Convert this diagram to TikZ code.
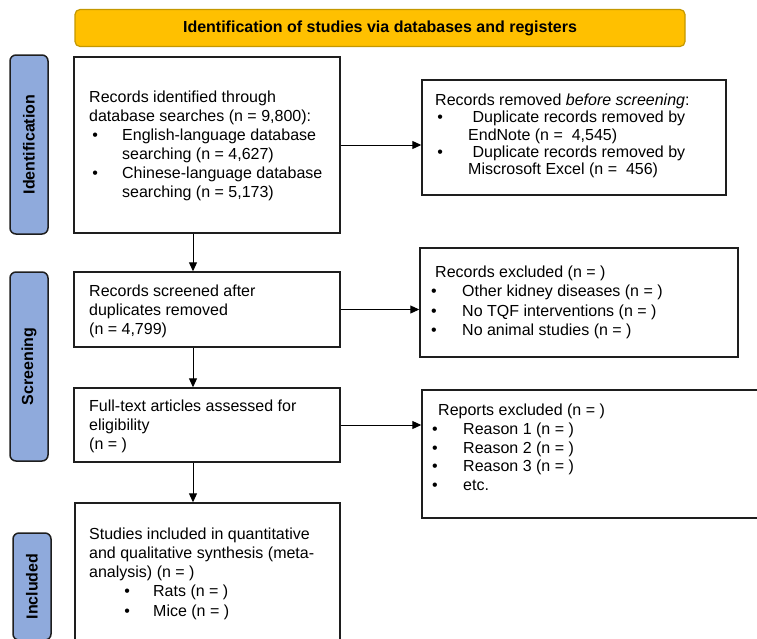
\documentclass[tikz,border=0pt]{standalone}
\usepackage{fontspec}
\setmainfont{Liberation Sans}
\usetikzlibrary{arrows.meta}
\definecolor{gold}{RGB}{255,192,0}
\definecolor{goldedge}{RGB}{196,152,0}
\definecolor{sideblue}{RGB}{143,170,220}
\definecolor{edge}{RGB}{30,30,30}
\newcommand\bu[2]{\makebox[#2pt][l]{\hspace*{#1pt}\textbullet}}
\begin{document}
\begin{tikzpicture}[x=1pt,y=-1pt,
  box/.style={draw=edge, line width=1.4pt, inner sep=0},
  txt/.style={anchor=west, align=left, inner sep=0, font=\fontsize{16}{19}\selectfont},
  side/.style={draw=edge, fill=sideblue, line width=1.5pt, rounded corners=6pt, rotate=90, font=\bfseries\fontsize{16}{19}\selectfont, inner sep=0},
  arr/.style={-{Triangle[length=9pt,width=8pt]}, line width=1pt, black}]
\useasboundingbox (0,0) rectangle (757,638);

% banner
\node[draw=goldedge, fill=gold, line width=1.2pt, rounded corners=5pt, minimum width=610pt, minimum height=37pt, inner sep=0, font=\bfseries\fontsize{16}{19}\selectfont] (banner) at (380,28) {Identification of studies via databases and registers};

% side labels
\node[side, minimum width=179pt, minimum height=38pt] (idlab) at (29,144.5) {Identification};
\node[side, minimum width=189pt, minimum height=38pt] (scrlab) at (29,366.5) {Screening};
\node[side, minimum width=107pt, minimum height=38pt] (inclab) at (32,586.5) {Included};

% boxes
\node[box, minimum width=266pt, minimum height=176pt] (b1) at (207,145) {};
\node[box, minimum width=304pt, minimum height=115pt] (b2) at (574,137.5) {};
\node[box, minimum width=266pt, minimum height=75pt] (b3) at (207,309.5) {};
\node[box, minimum width=318pt, minimum height=109pt] (rex) at (579,302.5) {};
\node[box, minimum width=266pt, minimum height=74pt] (b4) at (207,425) {};
\node[box, minimum width=358pt, minimum height=128pt] (rep) at (601,454) {};
\node[box, minimum width=265pt, minimum height=141pt] (b5) at (207.5,573.5) {};

% texts
\node[txt] (t1) at (89,146) {Records identified through\\
database searches (n = 9,800):\\
\bu{3.2}{33}English-language database\\
\hspace*{33pt}searching (n = 4,627)\\
\bu{3.2}{33}Chinese-language database\\
\hspace*{33pt}searching (n = 5,173)};

\node[txt, font=\fontsize{16}{17.2}\selectfont] (t2) at (435,136) {Records removed \textit{before screening}:\\
\bu{2.2}{33}\ Duplicate records removed by\\
\hspace*{33pt}EndNote (n = \ 4,545)\\
\bu{2.2}{33}\ Duplicate records removed by\\
\hspace*{33pt}Miscrosoft Excel (n = \ 456)};

\node[txt] (t3) at (89,311) {Records screened after\\
duplicates removed\\
(n = 4,799)};

\node[txt, font=\fontsize{16}{19.5}\selectfont] (trex) at (431,302.5) {\hspace*{4pt}Records excluded (n = )\\
\bu{0}{31}Other kidney diseases (n = )\\
\bu{0}{31}No TQF interventions (n = )\\
\bu{0}{31}No animal studies (n = )};

\node[txt] (t4) at (89,426) {Full-text articles assessed for\\
eligibility\\
(n = )};

\node[txt, font=\fontsize{16}{18.7}\selectfont] (trep) at (432,447.5) {\hspace*{6pt}Reports excluded (n = )\\
\bu{0}{31}Reason 1 (n = )\\
\bu{0}{31}Reason 2 (n = )\\
\bu{0}{31}Reason 3 (n = )\\
\bu{0}{31}etc.};

\node[txt, font=\fontsize{16}{19.3}\selectfont] (t5) at (89,573.5) {Studies included in quantitative\\
and qualitative synthesis (meta-\\
analysis) (n = )\\
\bu{35.2}{64}Rats (n = )\\
\bu{35.2}{64}Mice (n = )};

% connectors
\coordinate (ax) at (193,0);
\draw[arr] (b1.south -| ax) -- (b3.north -| ax);
\draw[arr] (b3.south -| ax) -- (b4.north -| ax);
\draw[arr] (b4.south -| ax) -- (b5.north -| ax);
\draw[arr] (b1.east) -- (b2.west |- b1.east);
\draw[arr] (b3.east) -- (rex.west |- b3.east);
\draw[arr] (b4.east) -- (rep.west |- b4.east);
\end{tikzpicture}
\end{document}
